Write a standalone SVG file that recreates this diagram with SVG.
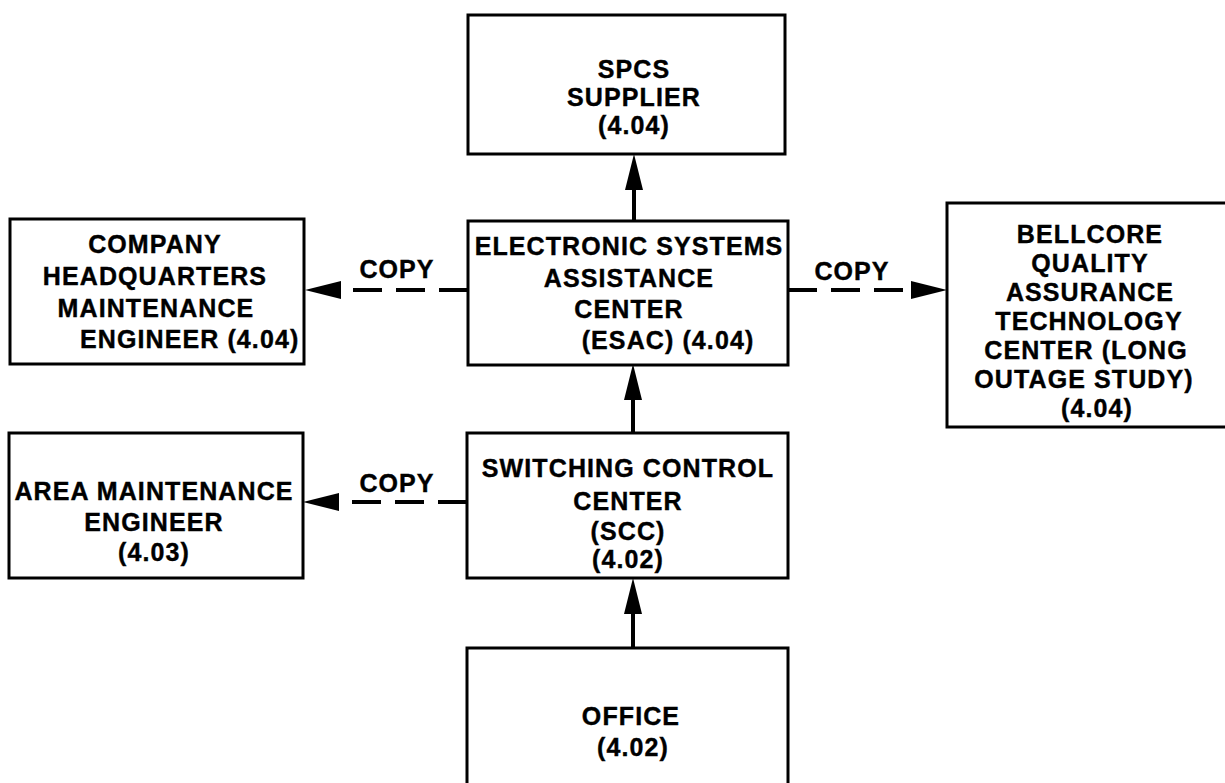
<svg xmlns="http://www.w3.org/2000/svg" width="1225" height="783" viewBox="0 0 1225 783">
<style>
.box{fill:#fff;stroke:#000;stroke-width:3}
.t{font-family:"Liberation Sans",Arial,sans-serif;font-weight:bold;font-size:25px;letter-spacing:1.1px;fill:#000;stroke:#000;stroke-width:0.4;text-anchor:middle}
.s{text-anchor:start}
.ln{fill:none;stroke:#000;stroke-width:4}
.dash{fill:none;stroke:#000;stroke-width:4;stroke-dasharray:29 14}
</style>
<defs>
<marker id="ah" markerUnits="userSpaceOnUse" markerWidth="36" markerHeight="20" viewBox="0 0 36 20" refX="0" refY="10" orient="auto">
<path d="M0,1 L36,10 L0,19 z" fill="#000"/>
</marker>
</defs>
<rect width="1225" height="783" fill="#fff"/>
<g id="connectors">
<path class="ln" d="M634,221 V190" marker-end="url(#ah)"/>
<path class="ln" d="M633,433 V400" marker-end="url(#ah)"/>
<path class="ln" d="M633,648 V614" marker-end="url(#ah)"/>
<path class="dash" d="M468,290 H341" marker-end="url(#ah)"/>
<path class="dash" d="M788,290 H911" marker-end="url(#ah)"/>
<path class="dash" d="M467,502 H339" marker-end="url(#ah)"/>
<text class="t" x="397" y="278">COPY</text>
<text class="t" x="852" y="280">COPY</text>
<text class="t" x="397" y="492">COPY</text>
</g>
<g id="spcs">
<rect class="box" x="468" y="15" width="317" height="139"/>
<text class="t" x="634" y="78">SPCS</text>
<text class="t" x="634" y="106">SUPPLIER</text>
<text class="t" x="634" y="134">(4.04)</text>
</g>
<g id="esac">
<rect class="box" x="468" y="221" width="320" height="144"/>
<text class="t" x="629" y="255">ELECTRONIC SYSTEMS</text>
<text class="t" x="629" y="287">ASSISTANCE</text>
<text class="t" x="629" y="318">CENTER</text>
<text class="t" x="668" y="349">(ESAC) (4.04)</text>
</g>
<g id="hq">
<rect class="box" x="10" y="219" width="294" height="145"/>
<text class="t" x="155" y="253">COMPANY</text>
<text class="t" x="155" y="285">HEADQUARTERS</text>
<text class="t" x="156" y="317">MAINTENANCE</text>
<text class="t s" x="80" y="348">ENGINEER (4.04)</text>
</g>
<g id="bellcore">
<rect class="box" x="947" y="203" width="290" height="224"/>
<text class="t" x="1090" y="243">BELLCORE</text>
<text class="t" x="1090" y="272">QUALITY</text>
<text class="t" x="1090" y="301">ASSURANCE</text>
<text class="t" x="1089" y="330">TECHNOLOGY</text>
<text class="t" x="1086" y="359">CENTER (LONG</text>
<text class="t" x="1084" y="388">OUTAGE STUDY)</text>
<text class="t" x="1097" y="417">(4.04)</text>
</g>
<g id="area">
<rect class="box" x="9" y="433" width="294" height="145"/>
<text class="t" x="154" y="500">AREA MAINTENANCE</text>
<text class="t" x="154" y="531">ENGINEER</text>
<text class="t" x="154" y="561">(4.03)</text>
</g>
<g id="scc">
<rect class="box" x="467" y="433" width="321" height="145"/>
<text class="t" x="628" y="477">SWITCHING CONTROL</text>
<text class="t" x="628" y="510">CENTER</text>
<text class="t" x="628" y="540">(SCC)</text>
<text class="t" x="628" y="568">(4.02)</text>
</g>
<g id="office">
<rect class="box" x="467" y="648" width="321" height="150"/>
<text class="t" x="631" y="725">OFFICE</text>
<text class="t" x="633" y="756">(4.02)</text>
</g>
</svg>
